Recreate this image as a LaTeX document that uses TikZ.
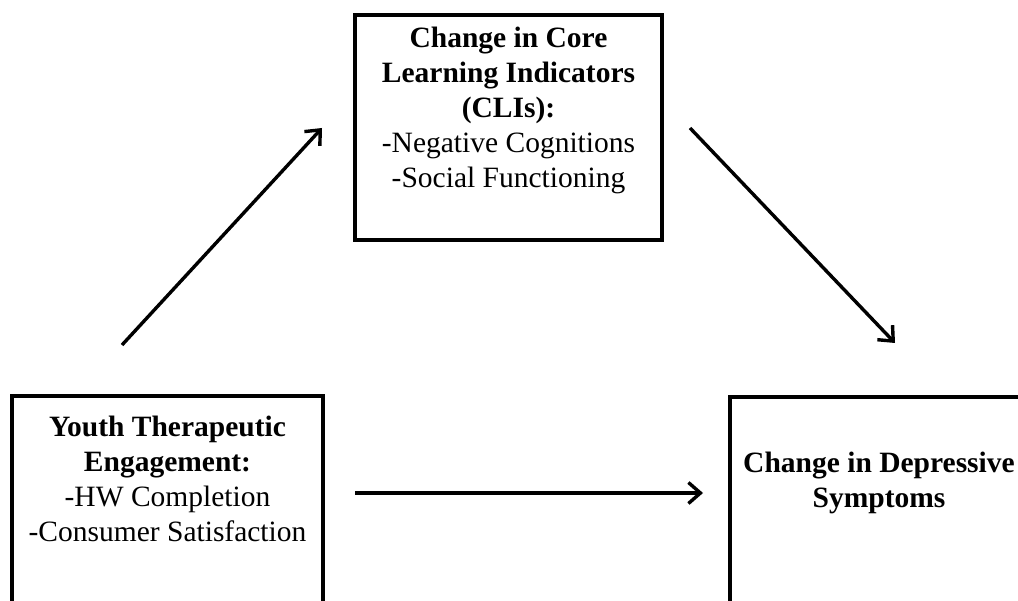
\documentclass[tikz,border=0pt]{standalone}
\usepackage{fontspec}
\setmainfont{Liberation Serif}
\usetikzlibrary{arrows.meta}
\begin{document}
\begin{tikzpicture}[x=1pt,y=-1pt,
  box/.style={draw=black, line width=3.4pt, inner sep=0pt, fill=white},
  lbl/.style={align=center, font=\fontsize{29.5}{35}\selectfont, inner sep=0pt, anchor=north},
  arr/.style={line width=3.4pt, -{Straight Barb[length=12pt,width=21pt]}}]
\useasboundingbox (0,0) rectangle (1018,601);
\clip (0,0) rectangle (1018,601);
\fill[white] (0,0) rectangle (1018,601);
% boxes
\node[box, minimum width=307pt, minimum height=225pt] (cli) at (508.5,127.5) {};
\node[box, minimum width=311pt, minimum height=250pt] (yte) at (167.5,521) {};
\node[box, minimum width=300pt, minimum height=250pt] (cds) at (880,522) {};
% texts
\node[lbl] (clitxt) at (508.5,27) {\textbf{Change in Core}\\\textbf{Learning Indicators}\\\textbf{(CLIs):}\\-Negative Cognitions\\-Social Functioning};
\node[lbl] (ytetxt) at (167.5,416) {\textbf{Youth Therapeutic}\\\textbf{Engagement:}\\-HW Completion\\-Consumer Satisfaction};
\node[lbl] (cdstxt) at (879,452) {\textbf{Change in Depressive}\\\textbf{Symptoms}};
% arrow end points
\coordinate (a1s) at (122,345);
\coordinate (a1e) at (322,128);
\coordinate (a2s) at (690,128);
\coordinate (a2e) at (895,343);
\coordinate (a3s) at (355,493);
\coordinate (a3e) at (703,493);
\draw[arr] (a1s) -- (a1e);
\draw[arr] (a2s) -- (a2e);
\draw[arr] (a3s) -- (a3e);
\end{tikzpicture}
\end{document}
